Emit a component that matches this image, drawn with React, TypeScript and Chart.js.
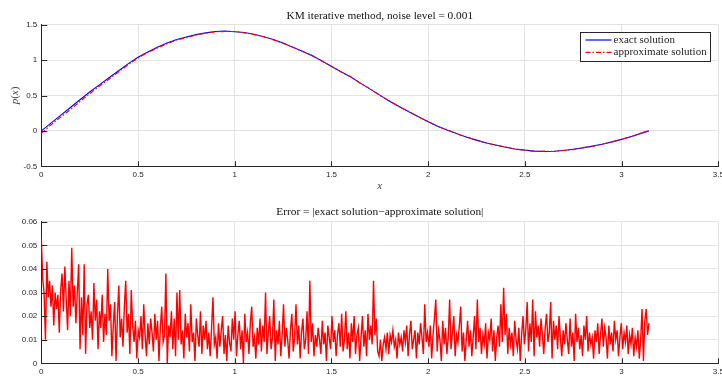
import React, { useEffect, useRef } from "react";
import { Chart, registerables } from "chart.js";

Chart.register(...registerables);

// ---------- data ----------
const curveX = [
  0, 0.05, 0.1, 0.15, 0.2, 0.25, 0.3, 0.35, 0.4, 0.45, 0.5, 0.55, 0.6, 0.65, 0.7, 0.75, 0.8, 0.85, 0.9, 0.95,
  1.0, 1.05, 1.1, 1.15, 1.2, 1.25, 1.3, 1.35, 1.4, 1.45, 1.5, 1.55, 1.6, 1.65, 1.7, 1.75, 1.8, 1.85, 1.9, 1.95,
  2.0, 2.05, 2.1, 2.15, 2.2, 2.25, 2.3, 2.35, 2.4, 2.45, 2.5, 2.55, 2.6, 2.65, 2.7, 2.75, 2.8, 2.85, 2.9, 2.95,
  3.0, 3.05, 3.1, 3.1416,
];

const exactY = [
  0, 0.11, 0.22, 0.33, 0.44, 0.55, 0.65, 0.75, 0.85, 0.95, 1.04, 1.115, 1.18, 1.24, 1.29, 1.325, 1.36, 1.385, 1.405, 1.41,
  1.4, 1.39, 1.365, 1.33, 1.29, 1.24, 1.18, 1.125, 1.06, 0.99, 0.91, 0.835, 0.76, 0.675, 0.59, 0.505, 0.42, 0.345, 0.27, 0.2,
  0.13, 0.065, 0.01, -0.04, -0.09, -0.13, -0.17, -0.2, -0.23, -0.255, -0.272, -0.285, -0.29, -0.287, -0.277, -0.26, -0.24, -0.215, -0.188, -0.155,
  -0.12, -0.08, -0.035, 0,
];

const approxY = [
  -0.035, 0.085, 0.195, 0.3, 0.415, 0.525, 0.63, 0.73, 0.835, 0.935, 1.03, 1.105, 1.17, 1.23, 1.285, 1.315, 1.355, 1.38, 1.4, 1.405,
  1.405, 1.385, 1.36, 1.33, 1.285, 1.235, 1.185, 1.12, 1.07, 0.985, 0.915, 0.83, 0.765, 0.67, 0.595, 0.5, 0.425, 0.34, 0.275, 0.195,
  0.135, 0.06, 0.015, -0.045, -0.085, -0.135, -0.165, -0.205, -0.225, -0.26, -0.27, -0.29, -0.285, -0.29, -0.275, -0.265, -0.235, -0.22, -0.185, -0.16,
  -0.115, -0.085, -0.03, 0.005,
];

const errorXStart = 0;
const errorXEnd = 3.1416;
const errorY = [
  0.053, 0.036, 0.030, 0.010, 0.043, 0.028, 0.035, 0.024, 0.033, 0.016, 0.030, 0.023, 0.029, 0.013, 0.031, 0.038, 0.022, 0.041, 0.027, 0.014,
  0.035, 0.020, 0.049, 0.024, 0.033, 0.017, 0.030, 0.042, 0.006, 0.028, 0.012, 0.042, 0.004, 0.025, 0.029, 0.015, 0.022, 0.010, 0.034, 0.018,
  0.027, 0.006, 0.022, 0.015, 0.029, 0.009, 0.021, 0.012, 0.040, 0.018, 0.025, 0.003, 0.016, 0.026, 0.001, 0.020, 0.033, 0.011, 0.019, 0.007,
  0.024, 0.035, 0.013, 0.021, 0.004, 0.031, 0.016, 0.009, 0.018, 0.002, 0.014, 0.011, 0.020, 0.006, 0.025, 0.012, 0.003, 0.017, 0.008, 0.019,
  0.013, 0.005, 0.021, 0.010, 0.018, 0.001, 0.015, 0.024, 0.009, 0.012, 0.038, 0.000, 0.016, 0.011, 0.022, 0.006, 0.019, 0.003, 0.030, 0.010,
  0.031, 0.008, 0.014, 0.002, 0.021, 0.011, 0.017, 0.005, 0.025, 0.009, 0.013, 0.001, 0.019, 0.012, 0.007, 0.022, 0.004, 0.016, 0.010, 0.018,
  0.006, 0.013, 0.003, 0.015, 0.028, 0.008, 0.011, 0.002, 0.017, 0.007, 0.014, 0.020, 0.004, 0.012, 0.001, 0.016, 0.009, 0.005, 0.019, 0.010,
  0.022, 0.003, 0.012, 0.018, 0.006, 0.014, 0.000, 0.021, 0.009, 0.013, 0.004, 0.017, 0.024, 0.007, 0.011, 0.002, 0.015, 0.008, 0.019, 0.005,
  0.016, 0.009, 0.030, 0.004, 0.013, 0.020, 0.006, 0.011, 0.027, 0.001, 0.014, 0.008, 0.018, 0.003, 0.012, 0.025, 0.007, 0.015, 0.010, 0.002,
  0.014, 0.021, 0.005, 0.011, 0.025, 0.008, 0.016, 0.002, 0.013, 0.019, 0.006, 0.010, 0.022, 0.004, 0.035, 0.009, 0.017, 0.003, 0.012, 0.007,
  0.015, 0.010, 0.004, 0.018, 0.008, 0.013, 0.001, 0.016, 0.011, 0.006, 0.020, 0.009, 0.014, 0.003, 0.012, 0.017, 0.007, 0.021, 0.005, 0.010,
  0.022, 0.006, 0.013, 0.002, 0.017, 0.009, 0.020, 0.004, 0.012, 0.015, 0.001, 0.011, 0.020, 0.007, 0.014, 0.003, 0.021, 0.010, 0.016, 0.008,
  0.035, 0.012, 0.019, 0.005, 0.003, 0.010, 0.001, 0.008, 0.011, 0.006, 0.013, 0.004, 0.012, 0.009, 0.014, 0.007, 0.010, 0.002, 0.013, 0.008,
  0.011, 0.005, 0.014, 0.009, 0.016, 0.003, 0.012, 0.018, 0.006, 0.010, 0.014, 0.002, 0.013, 0.008, 0.017, 0.011, 0.004, 0.025, 0.009, 0.013,
  0.007, 0.016, 0.002, 0.012, 0.019, 0.027, 0.005, 0.014, 0.010, 0.001, 0.018, 0.008, 0.015, 0.004, 0.011, 0.027, 0.006, 0.013, 0.020, 0.003,
  0.012, 0.009, 0.016, 0.024, 0.005, 0.013, 0.001, 0.010, 0.018, 0.007, 0.014, 0.003, 0.011, 0.020, 0.006, 0.027, 0.009, 0.015, 0.004, 0.012,
  0.008, 0.017, 0.002, 0.013, 0.010, 0.019, 0.005, 0.014, 0.001, 0.011, 0.016, 0.007, 0.025, 0.009, 0.032, 0.012, 0.021, 0.004, 0.015, 0.008,
  0.013, 0.003, 0.018, 0.010, 0.006, 0.015, 0.001, 0.012, 0.020, 0.008, 0.014, 0.026, 0.005, 0.017, 0.009, 0.027, 0.003, 0.022, 0.011, 0.016,
  0.007, 0.019, 0.012, 0.004, 0.015, 0.021, 0.009, 0.013, 0.026, 0.002, 0.018, 0.010, 0.016, 0.006, 0.020, 0.011, 0.003, 0.014, 0.008, 0.017,
  0.010, 0.004, 0.019, 0.007, 0.013, 0.001, 0.021, 0.009, 0.015, 0.006, 0.012, 0.003, 0.016, 0.010, 0.020, 0.005, 0.013, 0.008, 0.011, 0.002,
  0.014, 0.009, 0.017, 0.004, 0.012, 0.019, 0.007, 0.015, 0.011, 0.002, 0.016, 0.008, 0.013, 0.005, 0.018, 0.010, 0.014, 0.003, 0.011, 0.017,
  0.006, 0.013, 0.009, 0.016, 0.004, 0.012, 0.008, 0.015, 0.003, 0.011, 0.007, 0.014, 0.002, 0.010, 0.023, 0.001, 0.018, 0.023, 0.012, 0.017,
];

const topTitle = "KM iterative method, noise level = 0.001";
const bottomTitle = "Error = |exact solution\u2212approximate solution|";
const exactLabel = "exact solution";
const approxLabel = "approximate solution";
const xAxisLabel = "x";

// ---------- styles ----------
const axisColor = "#262626";
const gridColor = "#e3e3e3";
const tickFont = { family: '"Liberation Sans", Arial, sans-serif', size: 8 };
const serif = '"Liberation Serif", "Times New Roman", serif';
const fmtTick = (v: any) => String(Number(v));

type DecorCfg = {
  title: string;
  titleY: number;
  titleSize: number;
  xLabel?: string;
  xLabelY?: number;
  yLabel?: boolean;
  legend?: boolean;
};

function makeDecor(cfg: DecorCfg) {
  return {
    id: "decor",
    afterDraw(chart: any) {
      const { ctx, chartArea: a, scales } = chart;
      const xs = scales.x;
      const ys = scales.y;
      ctx.save();
      // inward tick marks
      ctx.strokeStyle = axisColor;
      ctx.lineWidth = 1;
      ctx.setLineDash([]);
      ctx.beginPath();
      xs.ticks.forEach((t: any) => {
        const px = Math.round(xs.getPixelForValue(t.value)) + 0.5;
        ctx.moveTo(px, a.bottom);
        ctx.lineTo(px, a.bottom - 5);
      });
      ys.ticks.forEach((t: any) => {
        const py = Math.round(ys.getPixelForValue(t.value)) + 0.5;
        ctx.moveTo(a.left, py);
        ctx.lineTo(a.left + 6, py);
      });
      ctx.stroke();

      // title
      const cx = (a.left + a.right) / 2;
      ctx.fillStyle = "#111";
      ctx.font = `${cfg.titleSize}px ${serif}`;
      ctx.textAlign = "center";
      ctx.textBaseline = "alphabetic";
      ctx.fillText(cfg.title, cx, cfg.titleY);

      // x label
      if (cfg.xLabel) {
        ctx.fillStyle = "#444";
        ctx.font = `italic 11px ${serif}`;
        ctx.fillText(cfg.xLabel, cx, cfg.xLabelY || 0);
      }
      // y label p(x)
      if (cfg.yLabel) {
        ctx.save();
        ctx.translate(15, (a.top + a.bottom) / 2);
        ctx.rotate(-Math.PI / 2);
        ctx.fillStyle = "#444";
        ctx.textBaseline = "middle";
        const parts: [string, string][] = [
          ["italic", "p"],
          ["normal", "("],
          ["italic", "x"],
          ["normal", ")"],
        ];
        let total = 0;
        parts.forEach(([s, t]) => {
          ctx.font = `${s} 11px ${serif}`;
          total += ctx.measureText(t).width;
        });
        let x0 = -total / 2;
        ctx.textAlign = "left";
        parts.forEach(([s, t]) => {
          ctx.font = `${s} 11px ${serif}`;
          ctx.fillText(t, x0, 0);
          x0 += ctx.measureText(t).width;
        });
        ctx.restore();
      }

      // legend
      if (cfg.legend) {
        ctx.font = `11px ${serif}`;
        const dsets = chart.data.datasets;
        const tw = Math.max(...dsets.map((d: any) => ctx.measureText(d.label).width));
        const boxRight = Math.round(a.right - 8) + 0.5;
        const boxW = Math.round(5 + 26 + 2 + tw + 4);
        const boxLeft = boxRight - boxW;
        const boxTop = Math.round(a.top + 7.6) + 0.5;
        const boxH = 29;
        ctx.fillStyle = "#ffffff";
        ctx.fillRect(boxLeft, boxTop, boxW, boxH);
        ctx.strokeStyle = axisColor;
        ctx.lineWidth = 1;
        ctx.strokeRect(boxLeft, boxTop, boxW, boxH);
        dsets.forEach((d: any, i: number) => {
          const ry = boxTop + 7.5 + i * 12.3;
          ctx.strokeStyle = d.borderColor;
          ctx.lineWidth = 1.2;
          ctx.setLineDash(d.borderDash || []);
          ctx.beginPath();
          ctx.moveTo(boxLeft + 5, ry);
          ctx.lineTo(boxLeft + 31, ry);
          ctx.stroke();
          ctx.setLineDash([]);
          ctx.fillStyle = "#222";
          ctx.textAlign = "left";
          ctx.textBaseline = "middle";
          ctx.fillText(d.label, boxLeft + 33, ry);
        });
      }
      ctx.restore();
    },
  };
}

function scaleX(height: number) {
  return {
    type: "linear" as const,
    min: 0,
    max: 3.5,
    ticks: {
      stepSize: 0.5,
      font: tickFont,
      color: axisColor,
      padding: 4,
      maxRotation: 0,
      autoSkip: false,
      callback: fmtTick,
    },
    grid: { color: gridColor, drawTicks: false, lineWidth: 1 },
    border: { color: axisColor, width: 1 },
    afterFit: (s: any) => {
      s.height = height;
      s.paddingLeft = 0;
      s.paddingRight = 0;
    },
  };
}

function scaleY(min: number, max: number, step: number) {
  return {
    type: "linear" as const,
    min,
    max,
    ticks: {
      stepSize: step,
      font: tickFont,
      color: axisColor,
      padding: 4,
      autoSkip: false,
      callback: fmtTick,
    },
    grid: { color: gridColor, drawTicks: false, lineWidth: 1 },
    border: { color: axisColor, width: 1 },
    afterFit: (s: any) => {
      s.width = 41.3;
      s.paddingTop = 0;
      s.paddingBottom = 0;
    },
  };
}

export default function App() {
  const topRef = useRef<HTMLCanvasElement | null>(null);
  const botRef = useRef<HTMLCanvasElement | null>(null);

  useEffect(() => {
    if (!topRef.current || !botRef.current) return;

    const top = new Chart(topRef.current, {
      type: "line",
      data: {
        datasets: [
          {
            label: exactLabel,
            data: curveX.map((x, i) => ({ x, y: exactY[i] })),
            borderColor: "#0000ff",
            borderWidth: 1.1,
            pointRadius: 0,
            fill: false,
            order: 1,
          },
          {
            label: approxLabel,
            data: curveX.map((x, i) => ({ x, y: approxY[i] })),
            borderColor: "#ff0000",
            borderWidth: 1.1,
            borderDash: [5, 2, 1.5, 2],
            pointRadius: 0,
            fill: false,
            order: 0,
          },
        ],
      },
      options: {
        responsive: false,
        animation: false,
        parsing: false as any,
        layout: { padding: { top: 24.7, right: 3.7, left: 0, bottom: 0 } },
        plugins: {
          legend: { display: false },
          tooltip: { enabled: false },
          title: { display: false },
        },
        scales: {
          x: scaleX(195 - 166.3),
          y: scaleY(-0.5, 1.5, 0.5),
        } as any,
      },
      plugins: [
        makeDecor({
          title: topTitle,
          titleY: 18.5,
          titleSize: 11.3,
          xLabel: xAxisLabel,
          xLabelY: 188.5,
          yLabel: true,
          legend: true,
        }),
      ],
    });

    const n = errorY.length;
    const errData = errorY.map((y, i) => ({
      x: errorXStart + (i * (errorXEnd - errorXStart)) / (n - 1),
      y,
    }));

    const bot = new Chart(botRef.current, {
      type: "line",
      data: {
        datasets: [
          {
            label: "error",
            data: errData,
            borderColor: "#ff0000",
            borderWidth: 1.4,
            pointRadius: 0,
            fill: false,
          },
        ],
      },
      options: {
        responsive: false,
        animation: false,
        parsing: false as any,
        layout: { padding: { top: 26.7, right: 3.7, left: 0, bottom: 0 } },
        plugins: {
          legend: { display: false },
          tooltip: { enabled: false },
          title: { display: false },
        },
        scales: {
          x: scaleX(182 - 168.3),
          y: scaleY(0, 0.06, 0.01),
        } as any,
      },
      plugins: [makeDecor({ title: bottomTitle, titleY: 20, titleSize: 11.4 })],
    });

    return () => {
      top.destroy();
      bot.destroy();
    };
  }, []);

  return (
    <div
      style={{
        position: "fixed",
        left: 0,
        top: 0,
        width: 722,
        height: 377,
        background: "#ffffff",
        overflow: "hidden",
      }}
    >
      <canvas
        ref={topRef}
        width={722}
        height={195}
        style={{ position: "absolute", left: 0, top: 0, width: 722, height: 195 }}
      />
      <canvas
        ref={botRef}
        width={722}
        height={182}
        style={{ position: "absolute", left: 0, top: 195, width: 722, height: 182 }}
      />
    </div>
  );
}
